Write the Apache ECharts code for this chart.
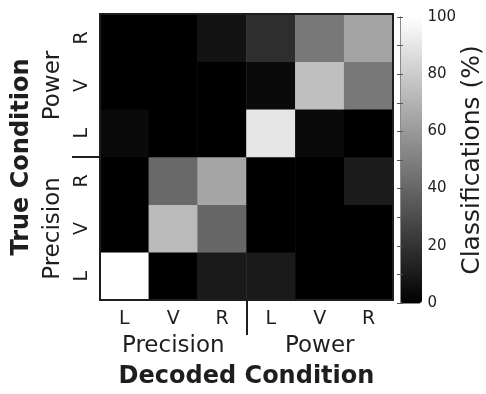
<!DOCTYPE html>
<html>
<head>
<meta charset="utf-8">
<script src="https://cdn.jsdelivr.net/npm/echarts@6/dist/echarts.min.js"></script>
<style>
  html, body { margin: 0; padding: 0; background: #fff; }
  #chart { width: 486px; height: 394px; }
</style>
</head>
<body>
<div id="chart"></div>
<script>
// decoded condition (columns) and true condition (rows, bottom to top)
const decodedLabels = ["L", "V", "R", "L", "V", "R"]
const trueLabels = ["L", "V", "R", "L", "V", "R"]
const groupLabels = ["Precision", "Power"]
const colorbarTicks = [0, 20, 40, 60, 80, 100]

// classifications (%) for each true condition, across decoded columns
const precisionL = [100, 0, 10, 10, 0, 0]
const precisionV = [0, 73, 40, 0, 0, 0]
const precisionR = [0, 41, 65, 0, 0, 11]
const powerL = [4, 0, 0, 90, 4, 0]
const powerV = [0, 0, 0, 4, 75, 47]
const powerR = [0, 0, 7, 18, 47, 64]

const rows = [precisionL, precisionV, precisionR, powerL, powerV, powerR]
const cells = []
rows.forEach((row, y) => row.forEach((value, x) => cells.push([x, y, value])))

const ink = "#1e1e1e"
const font = "DejaVu Sans"

const frameLine = { show: true, lineStyle: { color: ink, width: 2 } }
const barLine = { show: true, lineStyle: { color: "#8a8a8a", width: 1 } }
const groupLabel = (value) => (value < 3 ? groupLabels[0] : groupLabels[1])

const chart = echarts.init(document.getElementById("chart"), null, { renderer: "canvas" })
chart.setOption({
  animation: false,
  textStyle: { fontFamily: font, color: ink },
  grid: [
    { left: 100, top: 14, width: 293, height: 291 },
    { left: 400, top: 17, width: 22, height: 286 },
  ],
  xAxis: [
    {
      type: "category",
      data: decodedLabels,
      position: "bottom",
      z: 5,
      axisLine: frameLine,
      axisTick: { show: false },
      axisLabel: { fontSize: 19, margin: 10, color: ink, fontFamily: font },
      splitLine: { show: false },
    },
    {
      type: "value",
      min: 0,
      max: 6,
      position: "bottom",
      z: 5,
      axisLine: { show: false },
      splitLine: { show: false },
      axisTick: { customValues: [3], length: 35, lineStyle: { color: ink, width: 2 } },
      axisLabel: {
        customValues: [1.5, 4.5],
        formatter: groupLabel,
        fontSize: 23,
        margin: 35,
        color: ink,
        fontFamily: font,
      },
      name: "Decoded Condition",
      nameLocation: "middle",
      nameGap: 65,
      nameTextStyle: { fontSize: 24, fontWeight: "bold", color: ink, fontFamily: font },
    },
    {
      type: "category",
      data: decodedLabels,
      position: "top",
      z: 5,
      axisLine: frameLine,
      axisTick: { show: false },
      axisLabel: { show: false },
    },
    {
      type: "value",
      gridIndex: 1,
      position: "bottom",
      z: 10,
      axisLine: barLine,
      axisTick: { show: false },
      axisLabel: { show: false },
      splitLine: { show: false },
    },
    {
      type: "value",
      gridIndex: 1,
      position: "top",
      z: 10,
      axisLine: barLine,
      axisTick: { show: false },
      axisLabel: { show: false },
      splitLine: { show: false },
    },
  ],
  yAxis: [
    {
      type: "category",
      data: trueLabels,
      position: "left",
      z: 5,
      axisLine: frameLine,
      axisTick: { show: false },
      axisLabel: { fontSize: 19, margin: 8, rotate: 90, color: ink, fontFamily: font },
      splitLine: { show: false },
    },
    {
      type: "value",
      min: 0,
      max: 6,
      position: "left",
      z: 5,
      axisLine: { show: false },
      splitLine: { show: false },
      axisTick: { customValues: [3], length: 28, lineStyle: { color: ink, width: 2 } },
      axisLabel: {
        customValues: [1.5, 4.5],
        formatter: groupLabel,
        fontSize: 23,
        margin: 35,
        rotate: 90,
        color: ink,
        fontFamily: font,
      },
      name: "True Condition",
      nameLocation: "middle",
      nameGap: 66,
      nameTextStyle: { fontSize: 24, fontWeight: "bold", color: ink, fontFamily: font },
    },
    {
      type: "category",
      data: trueLabels,
      position: "right",
      z: 5,
      axisLine: frameLine,
      axisTick: { show: false },
      axisLabel: { show: false },
    },
    {
      type: "value",
      gridIndex: 1,
      position: "right",
      min: 0,
      max: 100,
      interval: 10,
      z: 10,
      axisLine: barLine,
      axisTick: { inside: true, length: 3, lineStyle: { color: "#555" } },
      axisLabel: {
        customValues: colorbarTicks,
        fontSize: 15,
        margin: 8,
        color: ink,
        fontFamily: font,
      },
      splitLine: { show: false },
      name: "Classifications (%)",
      nameLocation: "middle",
      nameGap: 35,
      nameTextStyle: { fontSize: 25, color: ink, fontFamily: font },
    },
    {
      type: "value",
      gridIndex: 1,
      position: "left",
      min: 0,
      max: 100,
      interval: 10,
      z: 10,
      axisLine: barLine,
      axisTick: { inside: true, length: 3, lineStyle: { color: "#555" } },
      axisLabel: { show: false },
      splitLine: { show: false },
    },
  ],
  visualMap: {
    type: "continuous",
    seriesIndex: 0,
    min: 0,
    max: 100,
    left: 400,
    top: 17,
    itemWidth: 22,
    itemHeight: 286,
    padding: 0,
    calculable: false,
    hoverLink: false,
    inRange: { color: ["#000000", "#ffffff"] },
  },
  series: [
    {
      type: "heatmap",
      xAxisIndex: 0,
      yAxisIndex: 0,
      data: cells,
      itemStyle: { borderWidth: 0 },
      emphasis: { disabled: true },
    },
  ],
})
</script>
</body>
</html>
